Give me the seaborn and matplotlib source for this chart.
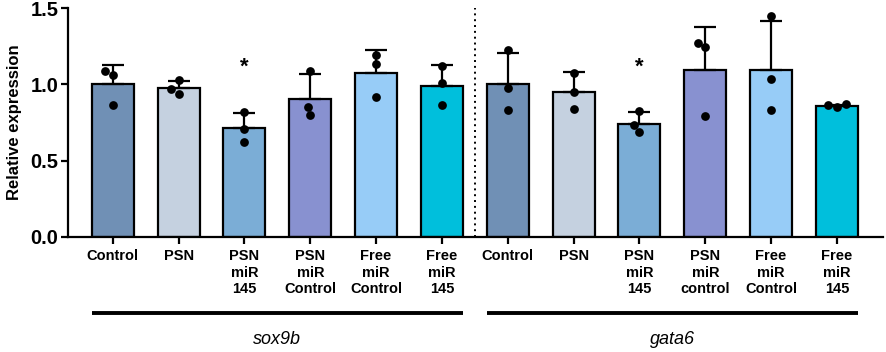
import numpy as np
import pandas as pd
import matplotlib
matplotlib.use("Agg")
import matplotlib.pyplot as plt
import matplotlib.transforms as mtransforms
import seaborn as sns

# ---- data ----
labels = ["Control", "PSN", "PSN\nmiR\n145", "PSN\nmiR\nControl", "Free\nmiR\nControl", "Free\nmiR\n145",
          "Control", "PSN", "PSN\nmiR\n145", "PSN\nmiR\ncontrol", "Free\nmiR\nControl", "Free\nmiR\n145"]
genes = ["sox9b"] * 6 + ["gata6"] * 6
means = [1.00, 0.975, 0.713, 0.906, 1.077, 0.99,
         1.002, 0.952, 0.741, 1.096, 1.096, 0.855]
sd = [0.125, 0.05, 0.10, 0.16, 0.15, 0.135,
      0.205, 0.13, 0.077, 0.277, 0.32, 0.008]
points = [[1.09, 1.06, 0.862], [1.026, 0.967, 0.939], [0.82, 0.71, 0.62],
          [1.088, 0.851, 0.796], [1.193, 1.132, 0.917], [1.118, 1.011, 0.866],
          [1.224, 0.974, 0.833], [1.077, 0.949, 0.84], [0.824, 0.732, 0.686],
          [1.274, 1.243, 0.792], [1.445, 1.035, 0.829], [0.851, 0.868, 0.862]]
colors = ["#7090B5", "#C5D1E0", "#7BADD6", "#8891D0", "#97CCF7", "#00BFDC"] * 2
signif = ["", "", "*", "", "", "", "", "", "*", "", "", ""]
gene_names = ["sox9b", "gata6"]

keys = [f"{g}|{i}" for i, g in enumerate(genes)]
bar_df = pd.DataFrame({"key": keys, "mean": means})
pt_df = pd.DataFrame({"key": [k for k, p in zip(keys, points) for _ in p],
                      "val": [v for p in points for v in p]})
pal = dict(zip(keys, colors))

plt.rcParams["font.family"] = ["Liberation Sans", "DejaVu Sans"]
fig = plt.figure(figsize=(8.86, 3.52), dpi=100)
ax = fig.add_axes([68 / 886, 1 - 237 / 352, (883 - 68) / 886, (237 - 8) / 352])

sns.barplot(data=bar_df, x="key", y="mean", hue="key", palette=pal, order=keys,
            legend=False, width=0.64, edgecolor="black", linewidth=1.6,
            saturation=1, errorbar=None, ax=ax, zorder=2)
xs = np.arange(len(keys))
ax.errorbar(xs, means, yerr=[np.zeros(len(sd)), sd], fmt="none", ecolor="black",
            elinewidth=1.6, capsize=8, capthick=1.6, zorder=3)
n_before = len(ax.collections)
sns.swarmplot(data=pt_df, x="key", y="val", order=keys, color="black", size=3.6,
              ax=ax, zorder=4)
fig.canvas.draw()
for coll in ax.collections[n_before:]:
    coll.set_sizes([6.3 ** 2])

for x, m, s, t in zip(xs, means, sd, signif):
    if t:
        ax.text(x, 1.115, t, ha="center", va="center", fontsize=16, fontweight="bold")

ax.set_xlim(-0.68, 11.7)
ax.set_ylim(0, 1.5)
ax.set_yticks([0, 0.5, 1.0, 1.5])
ax.set_yticklabels(["0.0", "0.5", "1.0", "1.5"], fontsize=14.5, fontweight="bold")
ax.set_xticks(xs)
ax.set_xticklabels(labels, fontsize=10.5, fontweight="bold", linespacing=1.2)
ax.set_xlabel("")
ax.set_ylabel("Relative expression", fontsize=12, fontweight="bold", labelpad=6)
ax.tick_params(axis="both", width=1.6, length=5, color="black")
ax.tick_params(axis="x", pad=4)
ax.tick_params(axis="y", pad=2)
for s in ["top", "right"]:
    ax.spines[s].set_visible(False)
for s in ["left", "bottom"]:
    ax.spines[s].set_linewidth(1.6)

ax.axvline(5.5, color="black", linestyle=(0, (1, 2)), linewidth=1.4, zorder=1)

trans = mtransforms.blended_transform_factory(ax.transData, fig.transFigure)
half = 0.32
for gi, g in enumerate(gene_names):
    idx = [i for i, gg in enumerate(genes) if gg == g]
    x0, x1 = min(idx) - half, max(idx) + half
    ax.plot([x0, x1], [1 - 313 / 352] * 2, color="black", linewidth=2.8,
            transform=trans, clip_on=False, solid_capstyle="butt")
    ax.text((x0 + x1) / 2, 1 - 340 / 352, g, transform=trans, ha="center",
            va="center", fontsize=13, fontstyle="italic")

fig.savefig("out.png", dpi=100)
